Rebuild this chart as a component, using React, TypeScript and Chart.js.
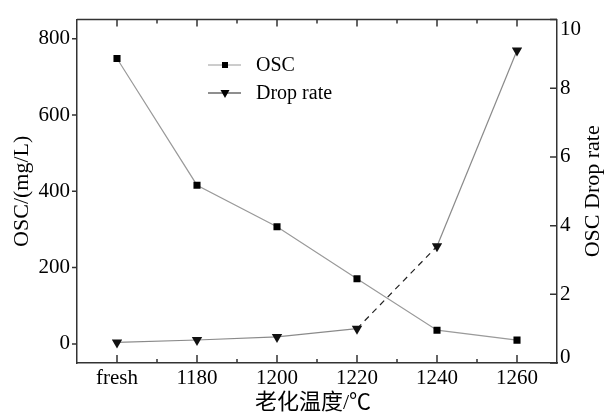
import React, { useEffect, useRef } from 'react';
import { Chart, registerables } from 'chart.js';
Chart.register(...registerables);

const categories = ['fresh', '1180', '1200', '1220', '1240', '1260'];
const oscValues = [748, 416, 307, 171, 36, 10];
const dropRateValues = [0.6, 0.67, 0.76, 1.0, 3.4, 9.1];
const leftTicks = [0, 200, 400, 600, 800];
const rightTicks = [0, 2, 4, 6, 8, 10];
const legendLabels = ['OSC', 'Drop rate'];
const xTitle = '老化温度/℃';
const leftTitle = 'OSC/(mg/L)';
const rightTitle = 'OSC Drop rate';

const FONT = "'Liberation Serif', 'Noto Sans CJK SC', serif";
const AXIS = '#333';

const decorPlugin = {
  id: 'decor',
  afterDraw(chart: any) {
    const ctx = chart.ctx;
    const { left, right, top, bottom } = chart.chartArea;
    const xs = chart.scales.x;
    const yl = chart.scales.y;
    const yr = chart.scales.y1;
    ctx.save();
    ctx.strokeStyle = AXIS;
    ctx.lineWidth = 1.5;
    // top border
    ctx.beginPath();
    ctx.moveTo(left, top);
    ctx.lineTo(right, top);
    ctx.stroke();
    // x major ticks (inside, bottom and top)
    ctx.beginPath();
    for (let i = 0; i < categories.length; i++) {
      const px = xs.getPixelForValue(i);
      ctx.moveTo(px, bottom);
      ctx.lineTo(px, bottom - 8);
      ctx.moveTo(px, top);
      ctx.lineTo(px, top + 7);
    }
    // x minor ticks
    for (let i = 0; i < categories.length - 1; i++) {
      const px = (xs.getPixelForValue(i) + xs.getPixelForValue(i + 1)) / 2;
      ctx.moveTo(px, bottom);
      ctx.lineTo(px, bottom - 4);
      ctx.moveTo(px, top);
      ctx.lineTo(px, top + 4);
    }
    // left ticks (outside)
    for (const v of leftTicks) {
      const py = yl.getPixelForValue(v);
      ctx.moveTo(left, py);
      ctx.lineTo(left - 5, py);
    }
    // right ticks (inside)
    for (const v of rightTicks) {
      const py = yr.getPixelForValue(v);
      ctx.moveTo(right, py);
      ctx.lineTo(right - 7, py);
    }
    ctx.stroke();

    // right tick labels
    ctx.fillStyle = '#000';
    ctx.font = `21px ${FONT}`;
    ctx.textAlign = 'left';
    ctx.textBaseline = 'middle';
    for (const v of rightTicks) {
      let py = yr.getPixelForValue(v);
      py = Math.min(Math.max(py, top + 10), bottom - 6);
      ctx.fillText(String(v), right + 3, py);
    }

    // titles
    ctx.font = `22px ${FONT}`;
    ctx.textAlign = 'center';
    ctx.textBaseline = 'middle';
    ctx.fillText(xTitle, (left + right) / 2 - 4, 403);
    ctx.save();
    ctx.translate(22, (top + bottom) / 2);
    ctx.rotate(-Math.PI / 2);
    ctx.fillText(leftTitle, 0, 0);
    ctx.restore();
    ctx.save();
    ctx.translate(593, (top + bottom) / 2);
    ctx.rotate(-Math.PI / 2);
    ctx.fillText(rightTitle, 0, 0);
    ctx.restore();

    // legend
    const lx0 = 208, lx1 = 241, mx = 225, tx = 256;
    const rows = [65, 93];
    ctx.lineWidth = 1;
    ctx.strokeStyle = '#9a9a9a';
    ctx.beginPath();
    ctx.moveTo(lx0, rows[0]);
    ctx.lineTo(lx1, rows[0]);
    ctx.stroke();
    ctx.fillStyle = '#000';
    ctx.fillRect(mx - 3, rows[0] - 3, 6, 6);
    ctx.strokeStyle = '#6a6a6a';
    ctx.lineWidth = 1.3;
    ctx.beginPath();
    ctx.moveTo(lx0, rows[1]);
    ctx.lineTo(lx1, rows[1]);
    ctx.stroke();
    ctx.beginPath();
    ctx.moveTo(mx - 4.5, rows[1] - 3);
    ctx.lineTo(mx + 4.5, rows[1] - 3);
    ctx.lineTo(mx, rows[1] + 5);
    ctx.closePath();
    ctx.fill();
    ctx.font = `20px ${FONT}`;
    ctx.textAlign = 'left';
    ctx.textBaseline = 'middle';
    ctx.fillText(legendLabels[0], tx, rows[0] + 1);
    ctx.fillText(legendLabels[1], tx, rows[1] + 1);
    ctx.restore();
  },
};

export default function App() {
  const ref = useRef<HTMLCanvasElement | null>(null);
  useEffect(() => {
    if (!ref.current) return;
    const chart = new Chart(ref.current, {
      type: 'line',
      data: {
        labels: categories,
        datasets: [
          {
            label: legendLabels[0],
            data: oscValues,
            yAxisID: 'y',
            borderColor: '#9a9a9a',
            borderWidth: 1.2,
            pointStyle: 'rect',
            pointRadius: 5,
            pointBackgroundColor: '#000',
            pointBorderColor: '#000',
            pointBorderWidth: 0,
            tension: 0,
          },
          {
            label: legendLabels[1],
            data: dropRateValues,
            yAxisID: 'y1',
            borderColor: '#8a8a8a',
            borderWidth: 1.2,
            pointStyle: 'triangle',
            pointRotation: 180,
            pointRadius: 6,
            pointBackgroundColor: '#111',
            pointBorderColor: '#111',
            pointBorderWidth: 0,
            tension: 0,
            segment: {
              borderDash: (c: any) => (c.p0DataIndex === 3 ? [6, 5] : undefined),
              borderColor: (c: any) => (c.p0DataIndex === 3 ? '#222' : undefined),
            },
          },
        ],
      },
      options: {
        responsive: false,
        animation: false,
        layout: { padding: { top: 10, left: 0, right: 0, bottom: 0 } },
        plugins: { legend: { display: false }, tooltip: { enabled: false } },
        scales: {
          x: {
            type: 'category',
            offset: true,
            grid: { display: false, drawTicks: false },
            border: { display: true, color: AXIS, width: 1.5 },
            ticks: { color: '#000', font: { family: FONT, size: 21 }, padding: 3, maxRotation: 0, autoSkip: false },
            afterFit: (s: any) => { s.height = 53; },
          },
          y: {
            position: 'left',
            min: -50,
            max: 850,
            grid: { display: false, drawTicks: false },
            border: { display: true, color: AXIS, width: 1.5 },
            ticks: { color: '#000', font: { family: FONT, size: 21 }, padding: 7 },
            afterBuildTicks: (s: any) => { s.ticks = leftTicks.map((v) => ({ value: v })); },
            afterFit: (s: any) => { s.width = 77; },
          },
          y1: {
            position: 'right',
            min: 0,
            max: 10,
            grid: { display: false, drawTicks: false },
            border: { display: true, color: AXIS, width: 1.5 },
            ticks: { display: false },
            afterBuildTicks: (s: any) => { s.ticks = rightTicks.map((v) => ({ value: v })); },
            afterFit: (s: any) => { s.width = 54; },
          },
        },
      },
      plugins: [decorPlugin],
    } as any);
    return () => chart.destroy();
  }, []);
  return (
    <div style={{ position: 'fixed', left: 0, top: 0, width: 611, height: 416, background: '#fff' }}>
      <canvas ref={ref} width={611} height={416} />
    </div>
  );
}
